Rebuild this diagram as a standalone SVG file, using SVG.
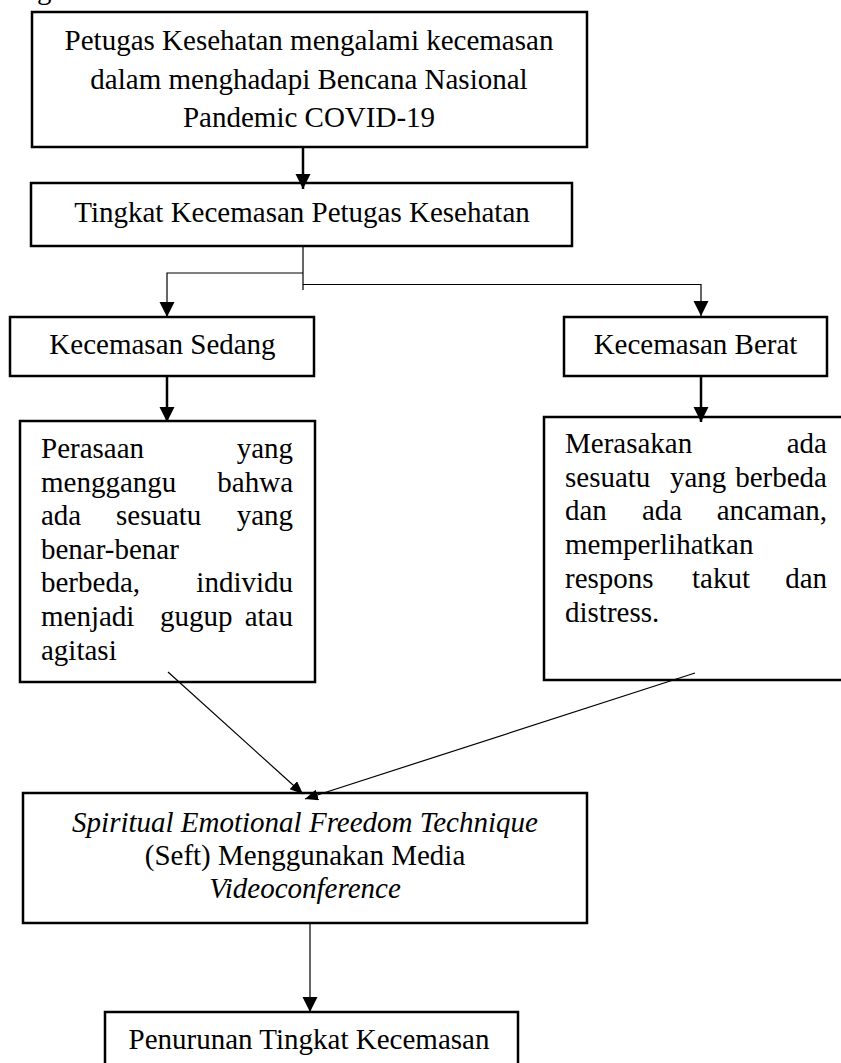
<svg xmlns="http://www.w3.org/2000/svg" width="841" height="1063" viewBox="0 0 841 1063">
<style>
  text { font-family: "Liberation Serif", "Times New Roman", serif; font-size: 29px; fill: #000; }
  .c { text-anchor: middle; }
  .e { text-anchor: end; }
  .i { font-style: italic; }
  .box { fill: #fff; stroke: #000; stroke-width: 2.5; }
  .thick { fill: none; stroke: #000; stroke-width: 2.5; }
  .thin { fill: none; stroke: #000; stroke-width: 1.2; }
</style>
<defs>
  <marker id="ah" markerUnits="userSpaceOnUse" markerWidth="16" markerHeight="16" refX="15" refY="7.5" orient="auto">
    <path d="M0,0 L15,7.5 L0,15 z" fill="#000"/>
  </marker>
  <marker id="ahs" markerUnits="userSpaceOnUse" markerWidth="14" markerHeight="14" refX="13" refY="5.5" orient="auto">
    <path d="M0,0 L13,5.5 L0,11 z" fill="#000"/>
  </marker>
</defs>
<rect width="841" height="1063" fill="#fff"/>
<text x="37" y="-1">g</text>

<g id="n1">
  <rect class="box" x="32" y="12" width="555" height="135"/>
  <text class="c" x="309" y="50">Petugas Kesehatan mengalami kecemasan</text>
  <text class="c" x="309" y="88.5">dalam menghadapi Bencana Nasional</text>
  <text class="c" x="309" y="127">Pandemic COVID-19</text>
</g>

<g id="n2">
  <rect class="box" x="31" y="183" width="541" height="63"/>
  <text class="c" x="302" y="222">Tingkat Kecemasan Petugas Kesehatan</text>
</g>

<g id="n3">
  <rect class="box" x="10" y="317" width="304" height="59"/>
  <text class="c" x="162.5" y="354">Kecemasan Sedang</text>
</g>

<g id="n4">
  <rect class="box" x="564" y="317" width="263" height="59"/>
  <text class="c" x="695.5" y="354">Kecemasan Berat</text>
</g>

<g id="n5">
  <rect class="box" x="20" y="421" width="295" height="261"/>
  <text x="41" y="458">Perasaan</text><text class="e" x="293" y="458">yang</text>
  <text x="41" y="491.5">menggangu</text><text class="e" x="293" y="491.5">bahwa</text>
  <text x="41" y="525">ada</text><text x="116" y="525">sesuatu</text><text class="e" x="293" y="525">yang</text>
  <text x="41" y="558.5">benar-benar</text>
  <text x="41" y="592">berbeda,</text><text class="e" x="293" y="592">individu</text>
  <text x="41" y="626">menjadi</text><text x="160" y="626">gugup</text><text class="e" x="293" y="626">atau</text>
  <text x="41" y="659.5">agitasi</text>
</g>

<g id="n6">
  <rect class="box" x="544" y="417" width="310" height="263"/>
  <text x="565" y="453">Merasakan</text><text class="e" x="827" y="453">ada</text>
  <text x="565" y="487">sesuatu</text><text x="670" y="487">yang</text><text class="e" x="827" y="487">berbeda</text>
  <text x="565" y="520">dan</text><text x="642" y="520">ada</text><text class="e" x="827" y="520">ancaman,</text>
  <text x="565" y="553.5">memperlihatkan</text>
  <text x="565" y="588">respons</text><text x="692" y="588">takut</text><text class="e" x="827" y="588">dan</text>
  <text x="565" y="622">distress.</text>
</g>

<g id="n7">
  <rect class="box" x="23" y="793" width="564" height="130"/>
  <text class="c i" x="305" y="832">Spiritual Emotional Freedom Technique</text>
  <text class="c" x="305" y="865">(Seft) Menggunakan Media</text>
  <text class="c i" x="305" y="898">Videoconference</text>
</g>

<g id="n8">
  <rect class="box" x="105" y="1012" width="413" height="70"/>
  <text class="c" x="309" y="1049">Penurunan Tingkat Kecemasan</text>
</g>

<g id="connectors">
  <line class="thick" x1="303" y1="147" x2="303" y2="189" marker-end="url(#ah)"/>
  <line class="thin" x1="303" y1="246" x2="303" y2="290"/>
  <path class="thin" d="M303,273 H167 V317" marker-end="url(#ah)"/>
  <path class="thin" d="M303,284.5 H701 V316" marker-end="url(#ah)"/>
  <line class="thick" x1="167" y1="376" x2="167" y2="422" marker-end="url(#ah)"/>
  <line class="thick" x1="701" y1="376" x2="701" y2="422" marker-end="url(#ah)"/>
  <line class="thin" x1="168" y1="672" x2="303" y2="794" marker-end="url(#ahs)"/>
  <line class="thin" x1="695" y1="673" x2="305" y2="799" marker-end="url(#ahs)"/>
  <line class="thin" x1="310" y1="923" x2="310" y2="1012" marker-end="url(#ah)"/>
</g>
</svg>
